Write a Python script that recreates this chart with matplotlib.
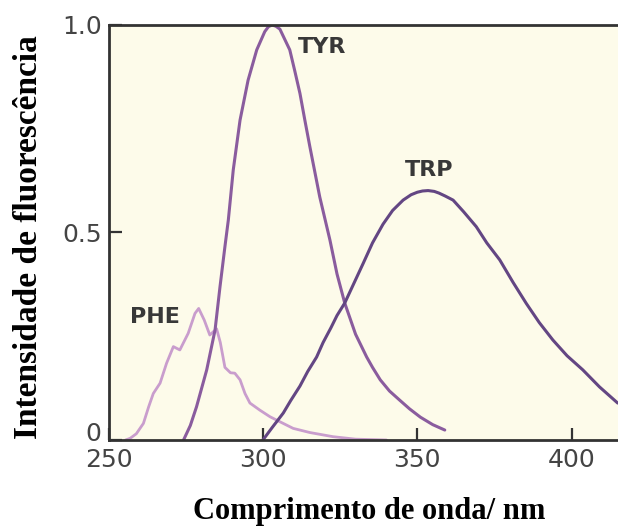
import matplotlib.pyplot as plt
import matplotlib.transforms as mtransforms

# emission spectra (wavelength nm, relative intensity)
phe_nm = [255.5, 257, 259, 261.3, 263, 264.5, 266.7, 268.8, 271, 273.1, 275.8, 278, 279.2,
          281, 282.8, 285, 286.2, 287.7, 289.5, 290.9, 292.6, 294.2, 295.8, 299, 302.3,
          305.5, 309.8, 315.2, 322.7, 330, 340]
phe_int = [0, 0.004, 0.015, 0.04, 0.08, 0.112, 0.137, 0.185, 0.225, 0.217, 0.257, 0.305,
           0.317, 0.289, 0.253, 0.268, 0.235, 0.175, 0.162, 0.161, 0.145, 0.112, 0.089,
           0.072, 0.056, 0.044, 0.028, 0.018, 0.008, 0.002, 0]

tyr_nm = [274.3, 276.5, 278.5, 281.8, 284.5, 286.1, 287.7, 288.8, 290.4, 292.6, 295.2,
          298, 300.6, 301.8, 303, 304.2, 305.5, 308.7, 310.3, 312, 313.6, 315.2, 318.4,
          321.7, 324, 326.5, 330, 333.6, 335.5, 338, 341, 344.3, 347.5, 351, 355, 358.9]
tyr_int = [0, 0.035, 0.08, 0.169, 0.265, 0.369, 0.466, 0.53, 0.651, 0.771, 0.867,
           0.94, 0.984, 0.996, 1.0, 0.997, 0.99, 0.94, 0.89, 0.835, 0.77, 0.707, 0.586,
           0.482, 0.40, 0.33, 0.255, 0.2, 0.175, 0.145, 0.118, 0.096, 0.075, 0.055,
           0.037, 0.024]

trp_nm = [300, 303, 306.6, 309, 312, 314.5, 317.4, 319.5, 322, 324, 326.5, 329.5, 332.5,
          335.5, 338.9, 342, 345.4, 348, 350, 351.7, 353.5, 355.5, 357, 359, 361.6, 365,
          369.1, 372.5, 376.7, 381, 385.3, 389.5, 393.9, 398.5, 403.6, 409, 414.9]
trp_int = [0, 0.03, 0.065, 0.095, 0.13, 0.165, 0.2, 0.235, 0.27, 0.30, 0.33, 0.378, 0.426,
           0.475, 0.52, 0.553, 0.578, 0.591, 0.597, 0.6, 0.601, 0.599, 0.595, 0.588, 0.578,
           0.55, 0.514, 0.475, 0.434, 0.38, 0.329, 0.283, 0.241, 0.203, 0.169, 0.128, 0.089]

x_ticks = [250, 300, 350, 400]
y_ticks = [0, 0.5, 1.0]
y_tick_labels = ['0', '0.5', '1.0']

fig = plt.figure(figsize=(6.18, 5.26), dpi=100)
ax = fig.add_axes([0.1756, 0.1635, 0.8244, 0.789])
ax.set_facecolor('#fdfbea')

line_kw = dict(solid_joinstyle='round', solid_capstyle='round')
ax.plot(phe_nm, phe_int, color='#c99dcd', linewidth=2, **line_kw)
ax.plot(tyr_nm, tyr_int, color='#8a5c9e', linewidth=2.2, **line_kw)
ax.plot(trp_nm, trp_int, color='#634683', linewidth=2.2, **line_kw)

lbl = dict(fontsize=16, fontweight='bold', color='#383838', va='center', ha='left')
ax.text(311.3, 0.947, 'TYR', **lbl)
ax.text(346, 0.65, 'TRP', **lbl)
ax.text(257, 0.296, 'PHE', **lbl)

ax.set_xlim(250, 415)
ax.set_ylim(0, 1.0)
ax.set_xticks(x_ticks)
ax.set_yticks(y_ticks)
ax.set_yticklabels(y_tick_labels)
ax.tick_params(direction='in', length=9, width=1.6, color='#333333',
               labelsize=18, labelcolor='#444444')
ax.tick_params(axis='x', pad=6)
ax.tick_params(axis='y', pad=5)

for s in ['left', 'bottom', 'top']:
    ax.spines[s].set_linewidth(2)
    ax.spines[s].set_color('#333333')
ax.spines['right'].set_visible(False)

# lift the "0" so it sits above the 250 label
fig.canvas.draw()
zero = ax.get_yticklabels()[0]
zero.set_transform(zero.get_transform() + mtransforms.ScaledTranslation(0, 6 / 72, fig.dpi_scale_trans))

ax.set_xlabel('Comprimento de onda/ nm', fontfamily='Liberation Serif',
              fontweight='bold', fontsize=22)
ax.set_ylabel('Intensidade de fluorescência', fontfamily='Liberation Serif',
              fontweight='bold', fontsize=24)
ax.xaxis.set_label_coords(0.511, -0.173)
ax.yaxis.set_label_coords(-0.158, 0.49)
ax.xaxis.label.set_va('center')
ax.yaxis.label.set_va('center')

fig.savefig('out.png', dpi=100, facecolor='white')
